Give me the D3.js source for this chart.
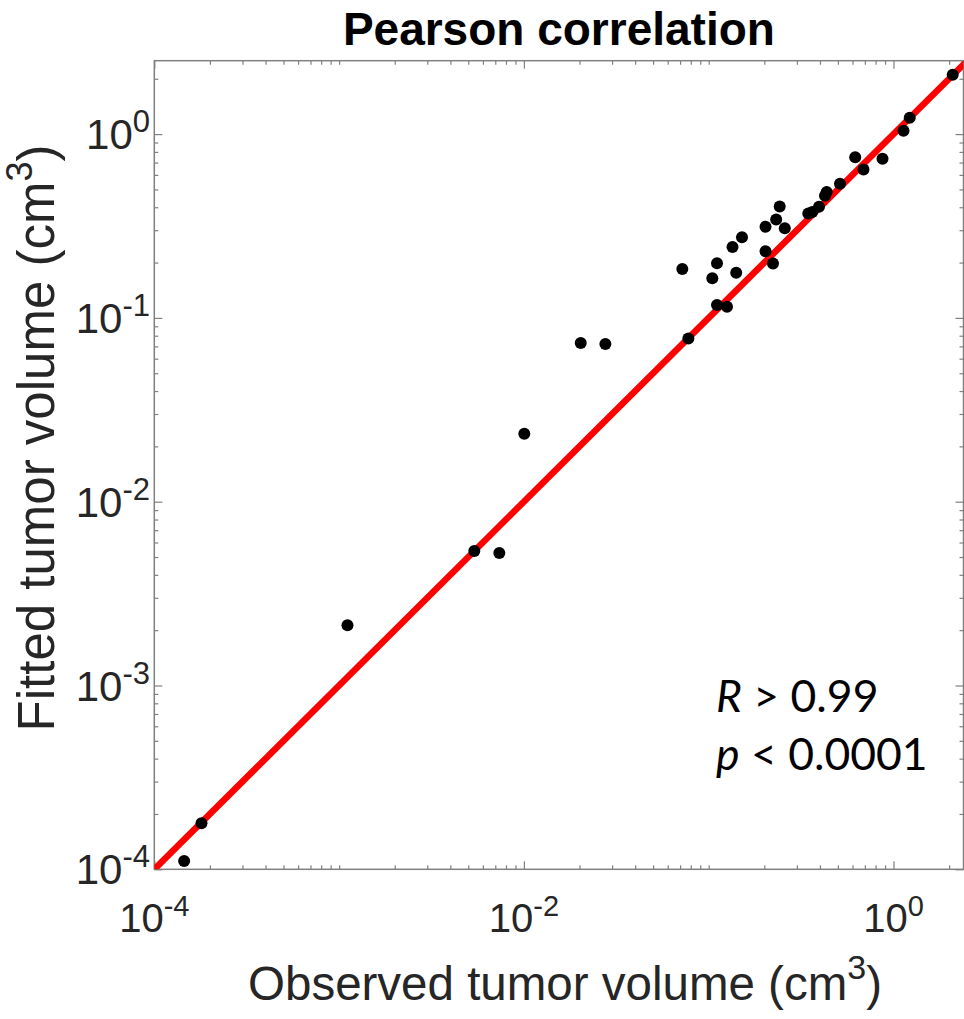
<!DOCTYPE html>
<html>
<head>
<meta charset="utf-8">
<script src="https://cdn.jsdelivr.net/npm/d3@7"></script>
<style>
  body { margin: 0; background: #fff; }
  svg { display: block; }
</style>
</head>
<body>
<div id="chart"></div>
<script>
// observed vs fitted tumor volume (cm^3)
const observed = [1.45e-4, 1.8e-4, 1.11e-3, 5.39e-3, 7.36e-3, 1.005e-2, 2.03e-2, 2.76e-2,
  0.072, 0.0776, 0.1046, 0.1109, 0.1109, 0.1256, 0.1345, 0.1409, 0.1514, 0.203, 0.203,
  0.2228, 0.2318, 0.2422, 0.2581, 0.3459, 0.3636, 0.3953, 0.4258, 0.435, 0.5135, 0.6205,
  0.6881, 0.872, 1.133, 1.224, 2.091];
const fitted = [1.11e-4, 1.78e-4, 2.13e-3, 5.39e-3, 5.26e-3, 2.34e-2, 7.3e-2, 7.21e-2,
  0.1845, 0.0773, 0.1642, 0.1982, 0.1175, 0.1151, 0.2431, 0.1761, 0.2746, 0.3131, 0.2304,
  0.1977, 0.3431, 0.4037, 0.3073, 0.3698, 0.3769, 0.4027, 0.4623, 0.4842, 0.5372, 0.7479,
  0.6418, 0.7339, 1.042, 1.228, 2.105];

const xLabelTicks = [1e-4, 1e-2, 1e0];
const yLabelTicks = [1e-4, 1e-3, 1e-2, 1e-1, 1e0];
const statLines = [["R", " > 0.99"], ["p", " < 0.0001"]];

var W = 964, H = 1019;
// plot box edges (note: "top" is taken by window.top)
var pLeft = 154.3, pRight = 963.5, pTop = 60.7, pBottom = 869.3;
var axisColor = "#808080";
var textColor = "#262626";

var x = d3.scaleLog()
  .domain([1e-4, Math.pow(10, (pRight - pLeft) / 184.8 - 4)])
  .range([pLeft, pRight]);
var y = d3.scaleLog()
  .domain([1e-4, Math.pow(10, (pBottom - pTop) / 183.8 - 4)])
  .range([pBottom, pTop]);

var svg = d3.select("#chart").append("svg")
  .attr("width", W)
  .attr("height", H)
  .attr("font-family", "'Liberation Sans', Arial, sans-serif");

svg.append("defs").append("clipPath").attr("id", "plot-clip")
  .append("rect")
  .attr("x", pLeft).attr("y", pTop)
  .attr("width", pRight - pLeft).attr("height", pBottom - pTop);

function isDecade(v) {
  return Math.abs(Math.log10(v) - Math.round(Math.log10(v))) < 1e-9;
}

// minor ticks everywhere, major only where labelled
var xMinor = x.ticks().filter(function (v) { return xLabelTicks.indexOf(v) < 0; });
var yMinor = y.ticks().filter(function (v) { return !isDecade(v); });

function drawAxis(axisFn, scale, pos, minor, major) {
  var gMinor = svg.append("g")
    .attr("transform", pos)
    .call(axisFn(scale).tickValues(minor).tickSize(-4).tickFormat(""));
  var gMajor = svg.append("g")
    .attr("transform", pos)
    .call(axisFn(scale).tickValues(major).tickSize(-8).tickFormat(""));
  [gMinor, gMajor].forEach(function (g) {
    g.select(".domain").remove();
    g.selectAll(".tick line").attr("stroke", axisColor).attr("stroke-width", 1.2);
  });
}

drawAxis(d3.axisBottom, x, "translate(0," + pBottom + ")", xMinor, xLabelTicks);
drawAxis(d3.axisTop, x, "translate(0," + pTop + ")", xMinor, xLabelTicks);
drawAxis(d3.axisLeft, y, "translate(" + pLeft + ",0)", yMinor, yLabelTicks);
drawAxis(d3.axisRight, y, "translate(" + pRight + ",0)", yMinor, yLabelTicks);

svg.append("rect")
  .attr("x", pLeft).attr("y", pTop)
  .attr("width", pRight - pLeft).attr("height", pBottom - pTop)
  .attr("fill", "none")
  .attr("stroke", axisColor)
  .attr("stroke-width", 1.5);

// tick labels, 10^n
function powerLabel(size, supSize, rise) {
  return function (sel) {
    sel.attr("font-size", size);
    sel.append("tspan").text("10");
    sel.append("tspan")
      .attr("dy", -rise)
      .attr("font-size", supSize)
      .text(function (d) { return Math.round(Math.log10(d)); });
  };
}

svg.append("g").selectAll("text")
  .data(xLabelTicks)
  .join("text")
  .attr("x", function (d) { return x(d); })
  .attr("y", 932)
  .attr("text-anchor", "middle")
  .attr("fill", textColor)
  .call(powerLabel(40, 29, 16));

svg.append("g").selectAll("text")
  .data(yLabelTicks)
  .join("text")
  .attr("x", 150)
  .attr("y", function (d) { return y(d) + 15; })
  .attr("text-anchor", "end")
  .attr("fill", textColor)
  .call(powerLabel(42, 31, 17));

// identity line y = x
var plot = svg.append("g").attr("clip-path", "url(#plot-clip)");
plot.append("line")
  .attr("x1", x(1e-4)).attr("y1", y(1e-4))
  .attr("x2", x(10)).attr("y2", y(10))
  .attr("stroke", "#ff0000")
  .attr("stroke-width", 6.5);

plot.selectAll("circle")
  .data(observed)
  .join("circle")
  .attr("cx", function (d) { return x(d); })
  .attr("cy", function (d, i) { return y(fitted[i]); })
  .attr("r", 6)
  .attr("fill", "#000");

// title and axis labels
svg.append("text")
  .attr("x", (pLeft + pRight) / 2)
  .attr("y", 45)
  .attr("text-anchor", "middle")
  .attr("font-size", 46)
  .attr("font-weight", "bold")
  .attr("fill", "#000")
  .text("Pearson correlation");

var xl = svg.append("text")
  .attr("x", 565)
  .attr("y", 1000)
  .attr("text-anchor", "middle")
  .attr("font-size", 47.5)
  .attr("fill", textColor);
xl.append("tspan").text("Observed tumor volume (cm");
xl.append("tspan").attr("dy", -21).attr("font-size", 34).text("3");
xl.append("tspan").attr("dy", 21).text(")");

var yl = svg.append("text")
  .attr("transform", "translate(54,438) rotate(-90)")
  .attr("text-anchor", "middle")
  .attr("font-size", 51)
  .attr("fill", textColor);
yl.append("tspan").text("Fitted tumor volume (cm");
yl.append("tspan").attr("dy", -22).attr("font-size", 36).text("3");
yl.append("tspan").attr("dy", 22).text(")");

// statistics annotation
svg.append("g").selectAll("text")
  .data(statLines)
  .join("text")
  .attr("x", 716)
  .attr("y", function (d, i) { return 712 + i * 58; })
  .attr("font-family", "Lato, 'Open Sans', sans-serif")
  .attr("font-size", 44.5)
  .attr("fill", "#000")
  .each(function (d) {
    var t = d3.select(this);
    t.append("tspan").attr("font-style", "italic").text(d[0]);
    t.append("tspan").text(d[1]);
  });
</script>
</body>
</html>
